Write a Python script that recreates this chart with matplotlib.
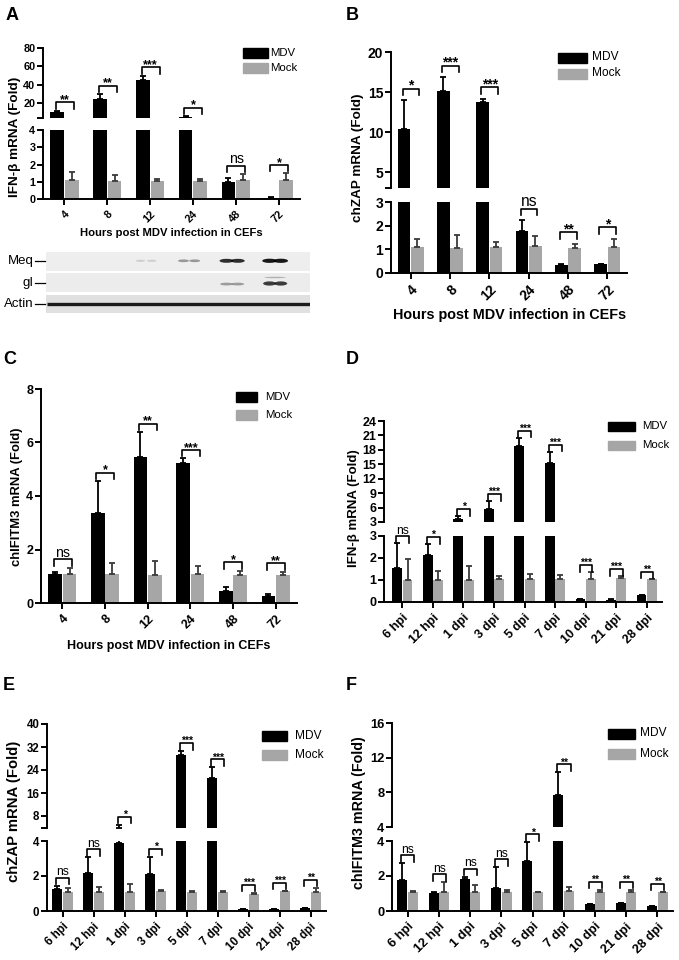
import numpy as np
import matplotlib
matplotlib.use("Agg")
import matplotlib.pyplot as plt
from matplotlib.lines import Line2D
from matplotlib.patches import Rectangle, Ellipse
from matplotlib.transforms import IdentityTransform

plt.rcParams['font.family'] = ['Liberation Sans', 'DejaVu Sans']

# ---- data ----
series = ["MDV", "Mock"]
hours = ["4", "8", "12", "24", "48", "72"]
days = ["6 hpi", "12 hpi", "1 dpi", "3 dpi", "5 dpi", "7 dpi", "10 dpi", "21 dpi", "28 dpi"]

# A: IFN-beta, CEFs
a_mdv = [10.4, 25, 45, 5.5, 1.0, 0.1]
a_mdv_err = [1.5, 5, 5, 0.6, 0.22, 0.02]
a_mock = [1.1, 1.05, 1.05, 1.05, 1.1, 1.1]
a_mock_err = [0.45, 0.38, 0.1, 0.1, 0.35, 0.4]
a_sig = ["**", "**", "***", "*", "ns", "*"]

# B: chZAP, CEFs
b_mdv = [10.4, 15.1, 13.7, 1.76, 0.32, 0.37]
b_mdv_err = [3.6, 1.75, 0.45, 0.46, 0.05, 0.03]
b_mock = [1.1, 1.05, 1.08, 1.12, 1.07, 1.1]
b_mock_err = [0.32, 0.55, 0.23, 0.44, 0.17, 0.34]
b_sig = ["*", "***", "***", "ns", "**", "*"]

# C: chIFITM3, CEFs
c_mdv = [1.08, 3.38, 5.44, 5.22, 0.45, 0.25]
c_mdv_err = [0.07, 1.18, 0.95, 0.19, 0.15, 0.08]
c_mock = [1.07, 1.07, 1.06, 1.07, 1.06, 1.04]
c_mock_err = [0.25, 0.43, 0.5, 0.32, 0.15, 0.12]
c_sig = ["ns", "*", "**", "***", "*", "**"]

# D: IFN-beta, in vivo
d_mdv = [1.53, 2.13, 3.6, 5.6, 18.8, 15.3, 0.12, 0.1, 0.3]
d_mdv_err = [1.13, 0.5, 0.6, 1.7, 1.7, 2.3, 0.03, 0.03, 0.04]
d_mock = [1.02, 1.02, 1.02, 1.05, 1.05, 1.05, 1.03, 1.08, 1.03]
d_mock_err = [0.95, 0.37, 0.62, 0.14, 0.22, 0.2, 0.33, 0.1, 0.03]
d_sig = ["ns", "*", "*", "***", "***", "***", "***", "***", "**"]

# E: chZAP, in vivo
e_mdv = [1.28, 2.18, 3.87, 2.14, 29.2, 21.3, 0.1, 0.12, 0.15]
e_mdv_err = [0.15, 0.88, 1.0, 0.96, 1.4, 3.6, 0.02, 0.02, 0.03]
e_mock = [1.09, 1.09, 1.09, 1.13, 1.1, 1.08, 1.0, 1.12, 1.07]
e_mock_err = [0.25, 0.29, 0.46, 0.06, 0.04, 0.04, 0.05, 0.05, 0.27]
e_sig = ["ns", "ns", "*", "*", "***", "***", "***", "***", "**"]

# F: chIFITM3, in vivo
f_mdv = [1.77, 1.04, 1.85, 1.33, 2.85, 7.66, 0.38, 0.45, 0.27]
f_mdv_err = [0.97, 0.03, 0.12, 1.16, 1.07, 2.64, 0.03, 0.03, 0.02]
f_mock = [1.1, 1.1, 1.1, 1.07, 1.07, 1.15, 1.1, 1.07, 1.06]
f_mock_err = [0.04, 0.54, 0.39, 0.12, 0.03, 0.23, 0.12, 0.15, 0.04]
f_sig = ["ns", "ns", "ns", "ns", "*", "**", "**", "**", "**"]

# western blot band strength per time point (0 = none)
blot_rows = ["Meq", "gI", "Actin"]
meq_level = [0, 0, 0.15, 0.4, 0.9, 1.0]
gi_level = [0, 0, 0, 0, 0.45, 1.0]

GRAY = "#a6a6a6"
W, H = 679, 960
fig = plt.figure(figsize=(W / 100, H / 100), dpi=100)


def px_axes(left, top, right, bottom):
    return fig.add_axes([left / W, 1 - bottom / H, (right - left) / W, (bottom - top) / H])


def bracket(ax, i, top, text, off, fs):
    xa, ya = ax.transData.transform((i - 0.2, top))
    xb, _ = ax.transData.transform((i + 0.22, top))
    yl = ya + off
    fig.add_artist(Line2D([xa, xa, xb, xb], [yl - 6.5, yl, yl, yl - 6.5],
                          transform=IdentityTransform(), color="black", lw=1.2))
    if text == "ns":
        fig.text((xa + xb) / 2 / W, (yl + 2.5) / H, text, ha="center", va="baseline",
                 fontsize=fs + 1.2)
    else:
        fig.text((xa + xb) / 2 / W, (yl - 1) / H, text, ha="center", va="baseline",
                 fontsize=fs, fontweight="bold")


def draw_err(ax, xs, vals, errs, lim, color):
    # only the whiskers that reach into this segment (caps are not clipped cleanly)
    vals, errs = np.asarray(vals), np.asarray(errs)
    keep = (vals + errs > lim[0]) & (vals < lim[1])
    if keep.any():
        ax.errorbar(xs[keep], vals[keep], yerr=[np.zeros(keep.sum()), errs[keep]], fmt="none",
                    ecolor=color, elinewidth=1.3, capsize=2, capthick=1.3)


def bar_panel(x0, x1, low, up, cats, mdv, mdv_err, mock, mock_err, sig, fs, sig_fs, off,
              xpad=0.5):
    n = len(cats)
    x = np.arange(n)
    ax_lo = px_axes(x0, low[0], x1, low[1])
    segs = [(ax_lo, low)]
    ax_up = None
    if up is not None:
        ax_up = px_axes(x0, up[0], x1, up[1])
        segs.append((ax_up, up))
    for ax, seg in segs:
        ax.bar(x - 0.17, mdv, 0.32, color="black")
        ax.bar(x + 0.17, mock, 0.32, color=GRAY)
        draw_err(ax, x - 0.17, mdv, mdv_err, seg[2], "black")
        draw_err(ax, x + 0.17, mock, mock_err, seg[2], "#3a3a3a")
        ax.set_xlim(-xpad, n - 1 + 0.5)
        ax.set_ylim(seg[2])
        ax.set_yticks(seg[3], seg[4], fontsize=fs, fontweight="bold")
        ax.spines[["top", "right"]].set_visible(False)
        ax.spines[["left", "bottom"]].set_linewidth(1.4)
        ax.tick_params(width=1.4, length=4, pad=1.5)
        ax.patch.set_alpha(0)
    ax_lo.set_xticks(x, cats, rotation=45, ha="right", rotation_mode="anchor",
                     fontsize=fs, fontweight="bold")
    ax_lo.tick_params(axis="x", pad=3)
    if ax_up is not None:
        ax_up.spines["bottom"].set_visible(False)
        ax_up.tick_params(axis="x", bottom=False, labelbottom=False)
    for i in range(n):
        top = max(mdv[i] + mdv_err[i], mock[i] + mock_err[i])
        ax = ax_up if (ax_up is not None and top > low[2][1]) else ax_lo
        bracket(ax, i, top, sig[i], off, sig_fs)


def legend_px(x, y1, y2, bw, bh, tx, fs):
    for y, c, name in [(y1, "black", series[0]), (y2, GRAY, series[1])]:
        fig.add_artist(Rectangle((x / W, 1 - (y + bh) / H), bw / W, bh / H,
                                 transform=fig.transFigure, color=c))
        fig.text(tx / W, 1 - (y + bh / 2) / H, name, va="center", fontsize=fs)


def ylabel_px(x, y, text, fs):
    fig.text(x / W, 1 - y / H, text, rotation=90, ha="center", va="center",
             fontsize=fs, fontweight="bold")


def title_px(x, y, text, fs):
    fig.text(x / W, 1 - y / H, text, ha="center", va="center", fontsize=fs, fontweight="bold")


xl = "Hours post MDV infection in CEFs"

# ---- A ----
bar_panel(43, 300, (130, 199.3, (0, 4), [0, 1, 2, 3, 4], ["0", "1", "2", "3", "4"]),
          (48, 118, (4, 80), [4, 20, 40, 60, 80], ["", "20", "40", "60", "80"]),
          hours, a_mdv, a_mdv_err, a_mock, a_mock_err, a_sig, 7.8, 9, 8.5)
legend_px(243, 48.5, 63.5, 25, 9, 270, 8.2)
ylabel_px(15, 137, "IFN-β mRNA (Fold)", 9.7)
title_px(171, 233, xl, 8.1)
title_px(12, 15, "A", 13)

# western blot under A
blot = px_axes(46, 252, 310, 313)
blot.set_xlim(-0.326, 5.81)
blot.set_ylim(313, 252)
blot.axis("off")
blot.add_patch(Rectangle((-0.326, 252), 6.2, 18.5, color="#eeeeee", lw=0))
blot.add_patch(Rectangle((-0.326, 272.5), 6.2, 19.5, color="#ececec", lw=0))
blot.add_patch(Rectangle((-0.326, 294.5), 6.2, 18.5, color="#e0e0e0", lw=0))
for i, v in enumerate(meq_level):
    if v > 0:
        w = 0.2 + 0.14 * v
        for dx in (-0.13, 0.13):
            blot.add_patch(Ellipse((i + dx, 260.8), w, 1.8 + 2.4 * v, color="black",
                                   alpha=0.9 * v, lw=0))
for i, v in enumerate(gi_level):
    if v > 0:
        for dx in (-0.13, 0.13):
            blot.add_patch(Ellipse((i + dx, 284.5 - v), 0.3, 1.6 + 2.6 * v, color="black",
                                   alpha=0.75 * v, lw=0))
        if v > 0.8:
            blot.add_patch(Ellipse((i, 277.5), 0.5, 1.4, color="black", alpha=0.25, lw=0))
blot.plot([-0.3, 5.8], [304, 304], color="#1a1a1a", lw=2.4, solid_capstyle="butt")
for name, y in zip(blot_rows, [261, 283, 304]):
    fig.text(34 / W, 1 - y / H, name, ha="right", va="center", fontsize=9.5)
    fig.add_artist(Line2D([35 / W, 45 / W], [1 - y / H, 1 - y / H], color="black", lw=0.9))

# ---- B ----
bar_panel(391, 627, (202, 273, (0, 3), [0, 1, 2, 3], ["0", "1", "2", "3"]),
          (52, 188, (3, 20), [3, 5, 10, 15, 20], ["", "5", "10", "15", "20"]),
          hours, b_mdv, b_mdv_err, b_mock, b_mock_err, b_sig, 10, 10, 11.5)
legend_px(558, 52.5, 68.5, 29, 10, 592, 8.6)
ylabel_px(357.5, 158, "chZAP mRNA (Fold)", 9.7)
title_px(510, 315, xl, 10.4)
title_px(352, 15, "B", 13)

# ---- C ----
bar_panel(41, 297, (389, 603, (0, 8), [0, 2, 4, 6, 8], ["0", "2", "4", "6", "8"]), None,
          hours, c_mdv, c_mdv_err, c_mock, c_mock_err, c_sig, 9, 9, 8.5)
legend_px(236, 391.5, 410, 21, 10, 265, 8.2)
ylabel_px(17.5, 497, "chIFITM3 mRNA (Fold)", 9.4)
title_px(169, 646, xl, 9)
title_px(10, 360, "C", 13)

# ---- D ----
bar_panel(384, 662, (536, 602, (0, 3), [0, 1, 2, 3], ["0", "1", "2", "3"]),
          (421, 522, (3, 24), [3, 6, 9, 12, 15, 18, 21, 24],
           ["3", "6", "9", "12", "15", "18", "21", "24"]),
          days, d_mdv, d_mdv_err, d_mock, d_mock_err, d_sig, 9, 7.5, 7, xpad=0.6)
legend_px(608, 421.5, 440.5, 27, 9, 642, 8.2)
ylabel_px(353.5, 508, "IFN-β mRNA (Fold)", 9.5)
title_px(352, 359, "D", 13)

# ---- E ----
bar_panel(47, 326, (841, 911, (0, 4), [0, 2, 4], ["0", "2", "4"]),
          (724, 827.5, (4, 40), [4, 8, 16, 24, 32, 40], ["", "8", "16", "24", "32", "40"]),
          days, e_mdv, e_mdv_err, e_mock, e_mock_err, e_sig, 8.3, 7.5, 8)
legend_px(262, 731, 750, 25, 9.5, 295, 8.6)
ylabel_px(14, 811, "chZAP mRNA (Fold)", 10.7)
title_px(9, 685, "E", 13)

# ---- F ----
bar_panel(392, 673, (841, 911, (0, 4), [0, 2, 4], ["0", "2", "4"]),
          (723, 827, (4, 16), [4, 8, 12, 16], ["4", "8", "12", "16"]),
          days, f_mdv, f_mdv_err, f_mock, f_mock_err, f_sig, 9.3, 7.5, 8)
legend_px(608, 728.5, 749, 27, 10, 640, 8.6)
ylabel_px(359, 813, "chIFITM3 mRNA (Fold)", 10.3)
title_px(351, 685, "F", 13)

fig.savefig("out.png", dpi=100)
